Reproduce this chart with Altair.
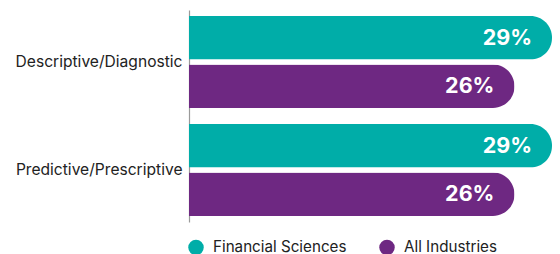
import altair as alt
import pandas as pd

categories = ["Descriptive/Diagnostic", "Predictive/Prescriptive"]
series = ["Financial Sciences", "All Industries"]
fin_values = [29, 29]
all_values = [26, 26]
colors = ["#00ADA8", "#6E2882"]

rows = []
for c, f, a in zip(categories, fin_values, all_values):
    rows.append({"category": c, "series": series[0], "value": f, "label": f"{f}%"})
    rows.append({"category": c, "series": series[1], "value": a, "label": f"{a}%"})
df = pd.DataFrame(rows)

FONT = "Inter"

y = alt.Y("category:N", sort=categories, title=None,
          scale=alt.Scale(paddingInner=0.15, paddingOuter=0.056),
          axis=alt.Axis(ticks=False, domainColor="#9a9a9a", domainWidth=1.2,
                        labelFontSize=15.6, labelColor="#222222", labelPadding=7,
                        labelFont=FONT, grid=False))
yoff = alt.YOffset("series:N", sort=series, scale=alt.Scale(paddingInner=0.104, paddingOuter=0))
x = alt.X("value:Q", scale=alt.Scale(domain=[0, 29], nice=False, zero=True), axis=None)

bars = alt.Chart(df).mark_bar(cornerRadiusEnd=21.5).encode(
    y=y, yOffset=yoff, x=x,
    color=alt.Color("series:N", sort=series,
                    scale=alt.Scale(domain=series, range=colors),
                    legend=alt.Legend(title=None, orient="none", direction="horizontal",
                                      legendX=-1, legendY=229, symbolType="circle",
                                      symbolSize=240, symbolStrokeWidth=0,
                                      labelFontSize=15.2, labelFont=FONT,
                                      labelColor="#222222", labelOffset=9,
                                      columnPadding=32)),
)

text = alt.Chart(df).mark_text(align="right", baseline="middle", dx=-20, dy=1,
                               fontSize=21.5, fontWeight="bold", color="white",
                               font=FONT).encode(
    y=y, yOffset=yoff, x=x, text="label:N")

chart = (bars + text).properties(
    width=363, height=212,
    autosize=alt.AutoSizeParams(type="none"),
    padding={"left": 181, "top": 2, "right": 0, "bottom": 42},
).configure_view(stroke=None)

chart.save("out.html", embed_options={"renderer": "svg", "actions": False})
